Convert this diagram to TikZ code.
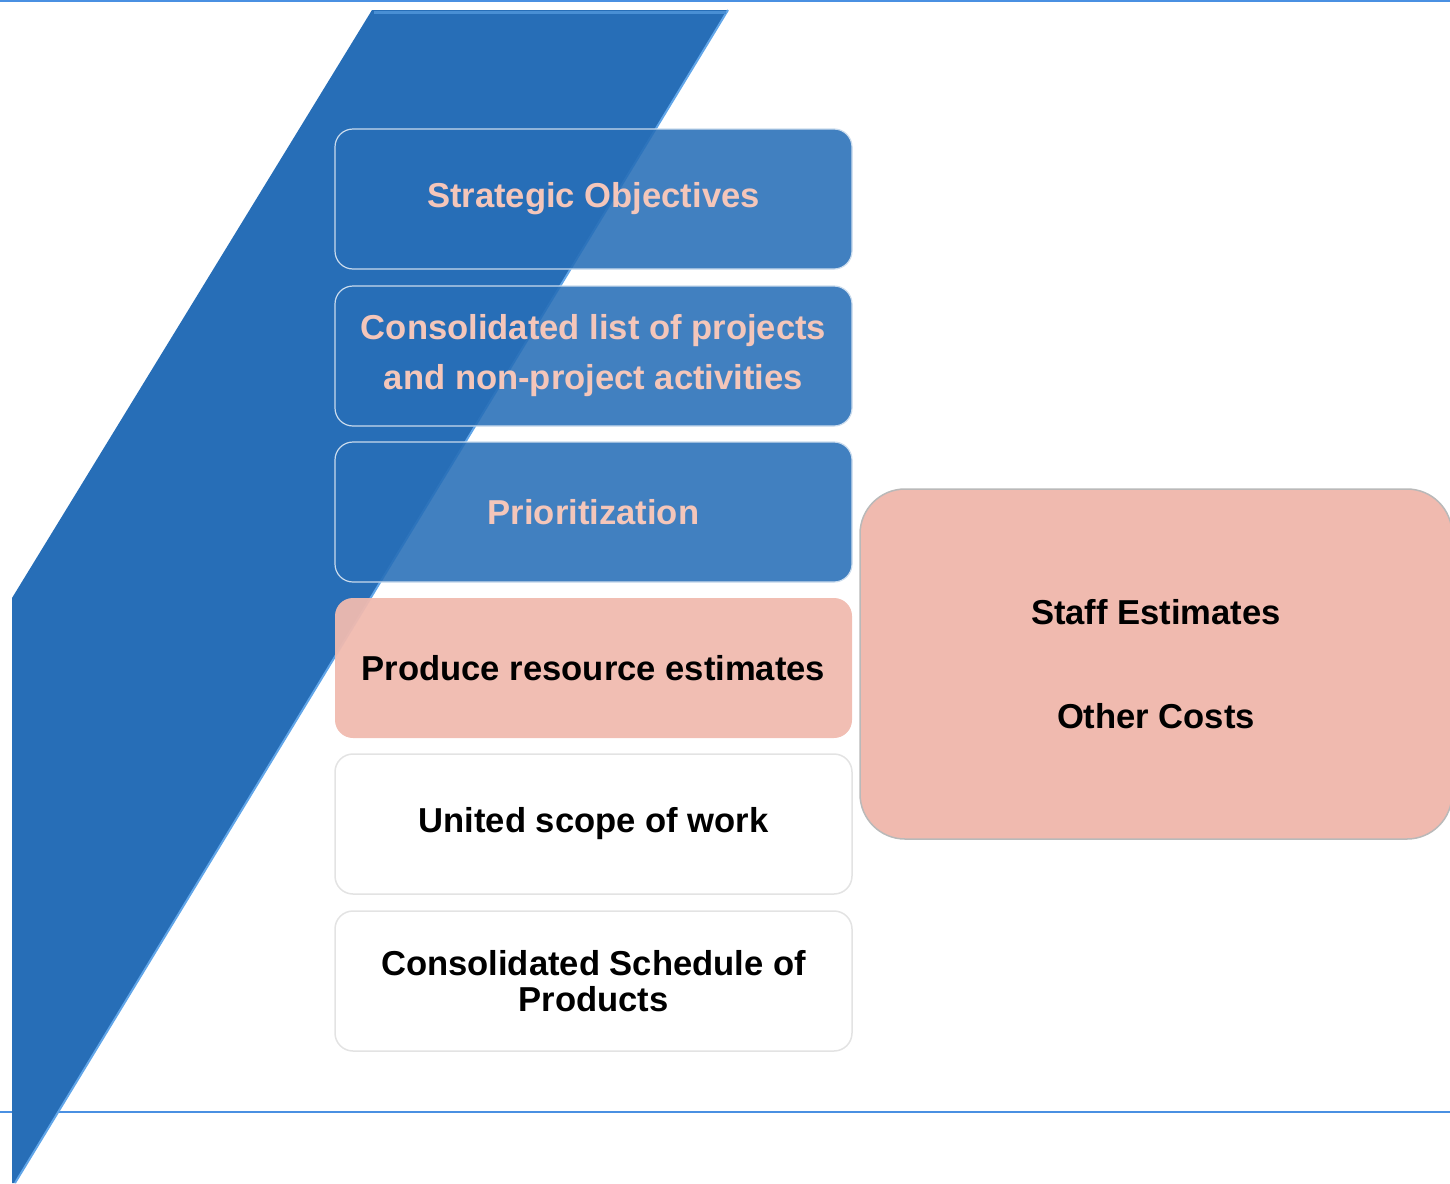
\documentclass[tikz,border=0pt]{standalone}
\usepackage{fontspec}
\setmainfont{Liberation Sans}
\usetikzlibrary{positioning}
\definecolor{shapeblue}{RGB}{39,110,183}
\definecolor{edgeblue}{RGB}{96,165,232}
\definecolor{ruleblue}{RGB}{74,144,226}
\definecolor{salmon}{RGB}{240,186,175}
\definecolor{pinktext}{RGB}{244,198,186}

\tikzset{
  stage/.style={rounded corners=18pt, minimum width=517pt, minimum height=140pt, align=center,
    font=\fontsize{34.6}{50}\selectfont\bfseries},
  bluestage/.style={stage, fill=shapeblue, fill opacity=0.88, text opacity=1,
    draw=white!75!shapeblue, line width=1.2pt, text=pinktext},
  pinkstage/.style={stage, fill=salmon, fill opacity=0.95, text opacity=1, draw=none},
  whitestage/.style={stage, fill=white, draw=gray!22, line width=1.5pt}
}

\begin{document}
\begin{tikzpicture}[x=1pt, y=-1pt]
    \useasboundingbox (0,0) rectangle (1450,1183);

    % Top and bottom rules
    \draw[ruleblue, line width=2pt] (0,1) -- (1450,1);
    \draw[ruleblue, line width=2pt] (0,1112) -- (1450,1112);

    % Big slanted band
    \fill[shapeblue] (372,10) -- (728,10) -- (15,1183) -- (12,1183) -- (12,598) -- cycle;
    \draw[edgeblue, line width=2pt] (728,10) -- (15,1183);
    \draw[edgeblue!60!shapeblue, line width=3pt] (374,12) -- (726,12);

    % Stacked stages
    \node[bluestage] (so) at (593.5,199) {Strategic Objectives};
    \node[bluestage] (list) at (593.5,356) {Consolidated list of projects\\and non-project activities};
    \node[bluestage] (prio) at (593.5,512) {Prioritization};
    \node[pinkstage] (est) at (593.5,668) {Produce resource estimates};
    \node[whitestage] (scope) at (593.5,824) {United scope of work};
    \node[whitestage, font=\fontsize{34.6}{36}\selectfont\bfseries] (sched) at (593.5,981)
        {Consolidated Schedule of\\Products};

    % Estimate details
    \node[rounded corners=45pt, minimum width=592pt, minimum height=350pt, align=center,
        fill=salmon, draw=gray!55, line width=1.5pt, font=\fontsize{34.6}{104}\selectfont\bfseries]
        (costs) at (1156,664) {Staff Estimates\\Other Costs};
\end{tikzpicture}
\end{document}
